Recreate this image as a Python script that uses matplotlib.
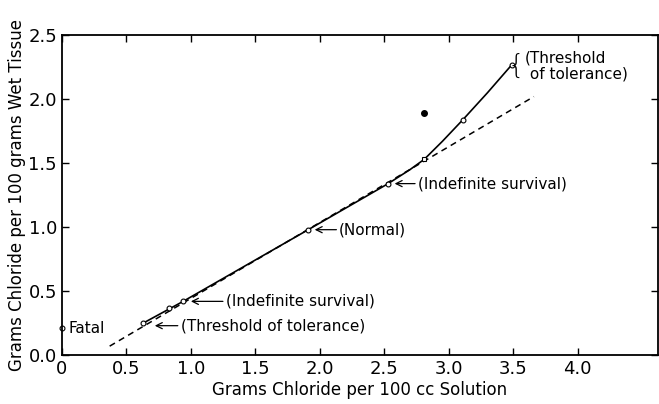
import matplotlib.pyplot as plt

# open circles (experimental points)
pts_x = [0.0, 0.63, 0.83, 0.94, 1.91, 2.53, 3.11, 3.49]
pts_y = [0.21, 0.25, 0.37, 0.42, 0.98, 1.34, 1.84, 2.27]
# small open square on the curve
sq_x = [2.81]
sq_y = [1.53]
# single filled point
dot_x = [2.81]
dot_y = [1.89]

# solid curve
curve_x = [0.63, 0.94, 1.91, 2.53, 2.70, 2.81, 2.95, 3.11, 3.30, 3.49]
curve_y = [0.25, 0.42, 0.98, 1.34, 1.45, 1.53, 1.67, 1.84, 2.05, 2.27]
# dashed straight line
dash_x = [0.37, 3.66]
dash_y = [0.07, 2.02]

xticks = [0, 0.5, 1.0, 1.5, 2.0, 2.5, 3.0, 3.5, 4.0]
xtick_labels = ['0', '0.5', '1.0', '1.5', '2.0', '2.5', '3.0', '3.5', '4.0']
yticks = [0.0, 0.5, 1.0, 1.5, 2.0, 2.5]

fig = plt.figure(figsize=(6.59, 4.04), dpi=100)
ax = fig.add_axes([0.094, 0.121, 0.904, 0.792])

ax.plot(curve_x, curve_y, 'k-', linewidth=1.2)
ax.plot(dash_x, dash_y, 'k--', linewidth=1.1, dashes=(4, 3))
ax.plot(pts_x, pts_y, 'o', markersize=3.5, markerfacecolor='white',
        markeredgecolor='black', markeredgewidth=0.8, clip_on=False)
ax.plot(sq_x, sq_y, 's', markersize=3, markerfacecolor='white',
        markeredgecolor='black', markeredgewidth=0.8)
ax.plot(dot_x, dot_y, 'ko', markersize=4)

ax.set_xlim(0, 4.62)
ax.set_ylim(0, 2.5)
ax.set_xticks(xticks)
ax.set_xticklabels(xtick_labels)
ax.set_yticks(yticks)
ax.tick_params(direction='in', top=True, right=True, labelsize=13, length=5, width=1)
for s in ax.spines.values():
    s.set_linewidth(1.3)

ax.set_xlabel('Grams Chloride per 100 cc Solution', fontsize=12, labelpad=2)
ax.set_ylabel('Grams Chloride per 100 grams Wet Tissue', fontsize=12, labelpad=2)

arrow = dict(arrowstyle='->', color='black', linewidth=0.9, shrinkA=0, shrinkB=0)
fs = 11
ax.text(0.05, 0.21, 'Fatal', fontsize=fs, va='center', ha='left')
ax.annotate('(Threshold of tolerance)', xy=(0.72, 0.23), xytext=(0.92, 0.23),
            fontsize=fs, va='center', ha='left', arrowprops=arrow)
ax.annotate('(Indefinite survival)', xy=(1.0, 0.42), xytext=(1.27, 0.42),
            fontsize=fs, va='center', ha='left', arrowprops=arrow)
ax.annotate('(Normal)', xy=(1.96, 0.98), xytext=(2.15, 0.98),
            fontsize=fs, va='center', ha='left', arrowprops=arrow)
ax.annotate('(Indefinite survival)', xy=(2.58, 1.34), xytext=(2.76, 1.34),
            fontsize=fs, va='center', ha='left', arrowprops=arrow)
ax.text(3.585, 2.265, '{', fontsize=19, va='center', ha='right', fontweight='light')
ax.text(3.59, 2.26, '(Threshold\n of tolerance)', fontsize=fs, va='center',
        ha='left', linespacing=1.1)

fig.savefig('out.png', dpi=100)
